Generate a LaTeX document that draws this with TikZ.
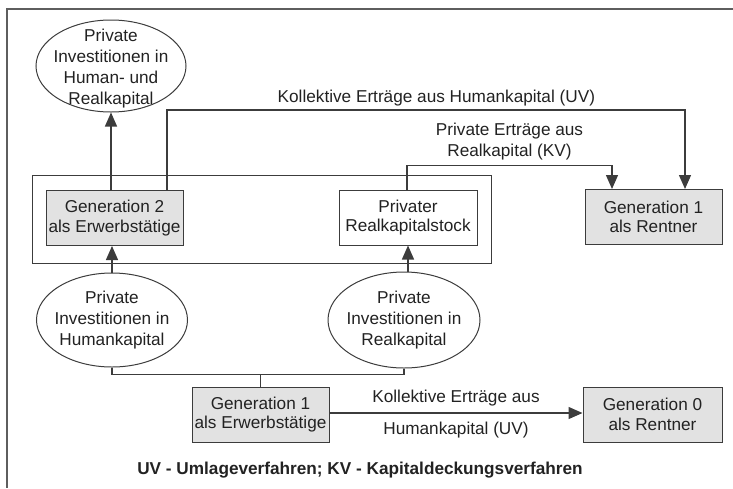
\documentclass[tikz,border=0pt]{standalone}
\usepackage{fontspec}
\setmainfont{Liberation Sans}
\usepackage{tikz}
\usetikzlibrary{shapes.geometric,arrows.meta,positioning}
\definecolor{linegray}{HTML}{3C3C3C}
\definecolor{boxgray}{HTML}{E2E2E2}
\definecolor{txtgray}{HTML}{222222}
\definecolor{framegray}{HTML}{5E5E5E}

\begin{document}
\begin{tikzpicture}[x=1pt, y=-1pt, line width=1.3pt, color=linegray,
		every node/.style={text=txtgray},
		gen node/.style={rectangle,draw,fill=boxgray,line width=1pt,minimum width=137pt,minimum height=55pt,
			inner sep=0pt,align=center,font=\fontsize{17.2}{19.5}\selectfont},
		stock node/.style={gen node,fill=white,minimum width=138pt},
		inv node/.style={ellipse,draw,line width=1pt,inner sep=0pt},
		inv text/.style={align=center,inner sep=0pt,font=\fontsize{17.2}{20.8}\selectfont},
		flow label/.style={align=center,inner sep=0pt,font=\fontsize{17.2}{20.8}\selectfont},
		arr/.style={-{Triangle[length=14pt,width=12pt]}}]
	
	\useasboundingbox (0,0) rectangle (733,488);
	\draw[framegray, line width=2pt] (733,9) -- (7,9) -- (7,488);
	
	\node[inv node, minimum width=150pt, minimum height=92pt] (hrinv) at (111,66) {};
	\node[inv text] (hrinvtext) at (111,68.5) {Private\\Investitionen in\\Human- und\\Realkapital};
	
	\node[gen node] (gen2) at (114.5,218) {Generation 2\\als Erwerbstätige};
	\node[stock node] (stock) at (408,217.5) {Privater\\Realkapitalstock};
	\node[gen node] (gen1r) at (653.5,217) {Generation 1\\als Rentner};
	\draw[line width=1pt] (32,175) rectangle (491,263);
	
	\node[inv node, minimum width=151pt, minimum height=94pt] (hinv) at (112,320) {};
	\node[inv text] (hinvtext) at (hinv) {Private\\Investitionen in\\Humankapital};
	\node[inv node, minimum width=152pt, minimum height=96pt] (rinv) at (404,320) {};
	\node[inv text] (rinvtext) at (rinv) {Private\\Investitionen in\\Realkapital};
	
	\node[gen node] (gen1e) at (260.5,414.5) {Generation 1\\als Erwerbstätige};
	\node[gen node, minimum width=139pt] (gen0r) at (652.5,414.5) {Generation 0\\als Rentner};
	
	\node[font=\bfseries\fontsize{17.2}{19}\selectfont] (legend) at (360,470)
		{UV - Umlageverfahren; KV - Kapitaldeckungsverfahren};
	
	\draw[arr] (gen2.north -| hrinv.south) -- (hrinv.south);
	\draw[arr] ([xshift=52.5pt]gen2.north) -- ++(0,-80)
		-| node[pos=0.26, above=3pt, flow label] {Kollektive Erträge aus Humankapital (UV)}
		([xshift=31.5pt]gen1r.north);
	\draw[arr] ([xshift=-1pt]stock.north) -- ++(0,-24)
		-| node[pos=0.25, above=5pt, flow label] {Private Erträge aus\\Realkapital (KV)}
		([xshift=-41.5pt]gen1r.north);
	
	\draw[arr] (hinv.north) -- (hinv.north |- gen2.south);
	\draw[arr] (rinv.north -| stock.south) -- (stock.south);
	
	\draw (gen1e.north) -- ++(0,-12) coordinate (fork);
	\draw (hinv.south) |- (fork) -| (rinv.south);
	
	\draw[arr] (gen1e.east |- 0,413) -- (gen0r.west |- 0,413)
		node[midway, above=6pt, flow label] {Kollektive Erträge aus}
		node[midway, below=8pt, flow label] {Humankapital (UV)};
\end{tikzpicture}
\end{document}
